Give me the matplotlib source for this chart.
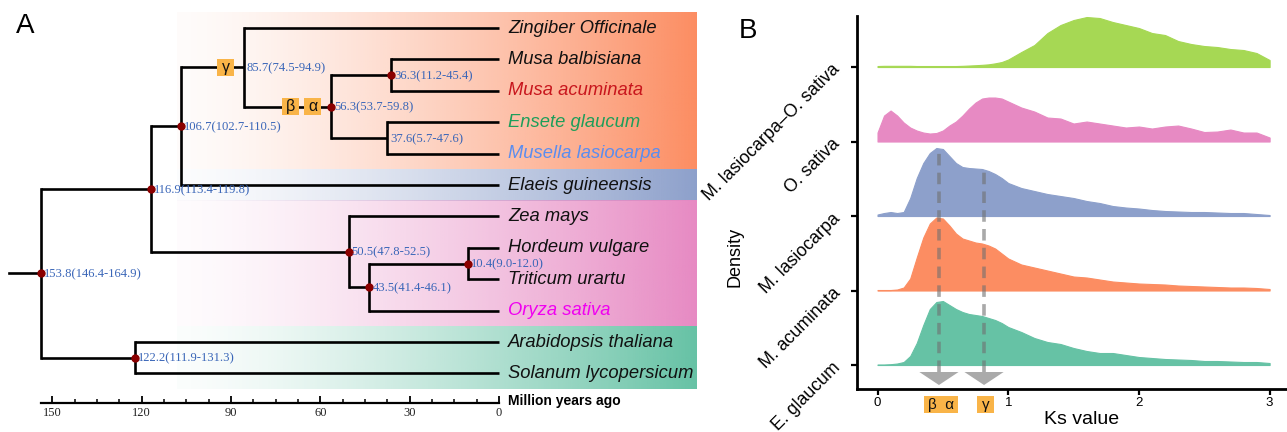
import numpy as np
import matplotlib
matplotlib.use("Agg")
import matplotlib.pyplot as plt
import matplotlib.transforms as mtransforms
from matplotlib.patches import Rectangle, Polygon
from matplotlib.ticker import MultipleLocator, FixedLocator

plt.rcParams['font.family'] = ['Liberation Sans', 'DejaVu Sans']

# ---------------- Panel A data ----------------
tip_names = ["Zingiber Officinale", "Musa balbisiana", "Musa acuminata", "Ensete glaucum",
             "Musella lasiocarpa", "Elaeis guineensis", "Zea mays", "Hordeum vulgare",
             "Triticum urartu", "Oryza sativa", "Arabidopsis thaliana", "Solanum lycopersicum"]
tip_colors = ["#111111", "#111111", "#C8161D", "#1E9E5A", "#5B8DEF", "#111111",
              "#111111", "#111111", "#111111", "#F000F0", "#111111", "#111111"]

node_ids = ["n1", "n2", "n3", "n4", "n5", "n6", "n7", "n8", "n9", "n10", "root"]
node_ages = [36.3, 37.6, 56.3, 85.7, 106.7, 10.4, 43.5, 50.5, 116.9, 122.2, 153.8]
node_lo = [11.2, 5.7, 53.7, 74.5, 102.7, 9.0, 41.4, 47.8, 113.4, 111.9, 146.4]
node_hi = [45.4, 47.6, 59.8, 94.9, 110.5, 12.0, 46.1, 52.5, 119.8, 131.3, 164.9]
node_children = [["Musa balbisiana", "Musa acuminata"],
                 ["Ensete glaucum", "Musella lasiocarpa"],
                 ["n1", "n2"],
                 ["Zingiber Officinale", "n3"],
                 ["n4", "Elaeis guineensis"],
                 ["Hordeum vulgare", "Triticum urartu"],
                 ["n6", "Oryza sativa"],
                 ["Zea mays", "n7"],
                 ["n5", "n8"],
                 ["Arabidopsis thaliana", "Solanum lycopersicum"],
                 ["n9", "n10"]]
node_dot = [True, False, True, False, True, True, True, True, True, True, True]

clade_first = [0, 5, 6, 10]
clade_last = [4, 5, 9, 11]
clade_colors = ["#FC8D62", "#8DA0CB", "#E78AC3", "#66C2A5"]

wgd_labels = ["γ", "β", "α"]
wgd_ages = [91.8, 69.8, 62.6]
wgd_on_node = ["n4", "n3", "n3"]

time_ticks = [150, 120, 90, 60, 30, 0]

# ---------------- Panel B data ----------------
ks_grid = [0, .05, .1, .15, .2, .25, .3, .35, .4, .45, .5, .55, .6, .65, .7, .75, .8, .85, .9, .95,
           1.0, 1.1, 1.2, 1.3, 1.4, 1.5, 1.6, 1.7, 1.8, 1.9, 2.0, 2.1, 2.2, 2.3, 2.4, 2.5, 2.6,
           2.7, 2.8, 2.9, 3.0]
ridge_names = ["E. glaucum", "M. acuminata", "M. lasiocarpa", "O. sativa", "M. lasiocarpa–O. sativa"]
ridge_colors = ["#66C2A5", "#FC8D62", "#8DA0CB", "#E78AC3", "#A6D854"]
dens_e_glaucum = [0.5, 0.5, 0.8, 1.5, 3, 9, 22, 40, 56, 63, 64, 60, 56, 53, 51, 50, 49, 47, 45, 42,
                  38, 33, 27, 23, 21, 17, 14, 12, 12, 10, 8, 7, 6, 5.5, 5, 4, 4, 3.5, 3, 3, 2]
dens_m_acuminata = [0.5, 0.5, 0.5, 1, 3, 12, 33, 53, 67, 73, 72, 65, 57, 52, 50, 48, 47, 45, 42, 37,
                    32, 26, 23, 20, 17, 14, 13, 11, 9, 8, 7, 6.5, 6, 5, 4.5, 4, 3.5, 3, 3, 2.5, 1.5]
dens_m_lasiocarpa = [1.5, 3, 4, 3, 4, 18, 38, 53, 63, 68, 67, 60, 53, 49, 48, 47.5, 47, 45, 42, 38,
                     33, 28, 25, 22, 20, 18, 15, 13, 10, 8.5, 7.5, 6, 5, 4.5, 4, 4, 3.5, 3, 3, 2, 1]
dens_o_sativa = [9, 26, 31, 26, 19, 14, 11, 9, 8, 8.5, 11, 16, 20, 26, 33, 39, 43, 44, 44, 43,
                 40, 34, 30, 24, 23, 18, 20, 18, 16, 14, 15, 13, 15, 16, 13, 9.5, 10, 12, 9, 9, 4]
dens_mlas_osat = [1, 1.2, 1.2, 1.2, 1.2, 1.2, 1, 1, 1, 1, 1, 1, 1, 1.2, 1.5, 1.8, 2.2, 2.7, 3.7, 5,
                  7.5, 15, 22, 34, 42, 47, 50, 49, 45, 42, 39, 34, 32, 26, 23, 21, 20, 18, 17, 14, 7]
ridge_dens = [dens_e_glaucum, dens_m_acuminata, dens_m_lasiocarpa, dens_o_sativa, dens_mlas_osat]
peak_labels = ["β  α", "γ"]
peak_ks = [0.47, 0.815]
ks_ticks = [0, 1, 2, 3]

# ---------------- Figure ----------------
W, H, DPI = 1287, 432, 100
fig = plt.figure(figsize=(W / DPI, H / DPI), dpi=DPI)

# Panel A axes calibrated: x = Myr (reversed), y = tip index
axA = fig.add_axes([0, 0, 720 / W, 1])
axA.axis('off')

# background gradient bands
grad_t0, grad_t1 = 108.0, -66.4
tt = np.linspace(0, 1, 256)
ramp = 0.03 + 0.97 * tt ** 1.4
for c0, c1, col in zip(clade_first, clade_last, clade_colors):
    rgb = np.array(matplotlib.colors.to_rgb(col))
    img = np.ones((1, 256, 4))
    img[0, :, :3] = rgb
    img[0, :, 3] = ramp
    axA.imshow(img, extent=[grad_t0, grad_t1, c1 + 0.5, c0 - 0.5], aspect='auto',
               interpolation='bilinear', zorder=0)
axA.set_xlim(167.45, -74.16)
axA.set_ylim(12.866, -0.892)

# positions
ypos = {n: i for i, n in enumerate(tip_names)}
xpos = {n: 0.0 for n in tip_names}
for nid, age, ch in zip(node_ids, node_ages, node_children):
    xpos[nid] = age
    ypos[nid] = 0.5 * (ypos[ch[0]] + ypos[ch[1]])

lw_tree = 1.9
for nid, age, ch in zip(node_ids, node_ages, node_children):
    axA.plot([age, age], [ypos[ch[0]], ypos[ch[1]]], color='black', lw=lw_tree,
             solid_capstyle='projecting', zorder=2)
    for c in ch:
        axA.plot([age, xpos[c]], [ypos[c], ypos[c]], color='black', lw=lw_tree,
                 solid_capstyle='butt', zorder=2)
root_age = node_ages[-1]
axA.plot([root_age + 10.5, root_age], [ypos['root'], ypos['root']], color='black', lw=lw_tree, zorder=2)

for nid, age, lo, hi, dot in zip(node_ids, node_ages, node_lo, node_hi, node_dot):
    if dot:
        axA.plot(age, ypos[nid], 'o', color='#8B0000', ms=5, zorder=4)
    axA.annotate(f"{age}({lo}-{hi})", (age, ypos[nid]), xytext=(3, -1), textcoords='offset pixels',
                 ha='left', va='center', fontsize=9.1, color='#3A66B8',
                 family=['Liberation Serif', 'DejaVu Serif'], zorder=4)

for name, col in zip(tip_names, tip_colors):
    axA.annotate(name, (0, ypos[name]), xytext=(9, 0), textcoords='offset pixels',
                 ha='left', va='center', fontsize=13.2, style='italic', color=col, zorder=4)

BOX = "#F9B448"


def px_rect(x, y, wpx, hpx, trans, color=BOX, z=5):
    off = mtransforms.ScaledTranslation(x, y, trans)
    r = Rectangle((-wpx / 2 / DPI, -hpx / 2 / DPI), wpx / DPI, hpx / DPI,
                  transform=fig.dpi_scale_trans + off, fc=color, ec='none', zorder=z)
    fig.add_artist(r)


for lab, age, nid in zip(wgd_labels, wgd_ages, wgd_on_node):
    px_rect(age, ypos[nid], 17, 17, axA.transData)
    fig.text(age, ypos[nid], lab, transform=axA.transData, ha='center', va='center',
             fontsize=11.5, zorder=6, color='#111111')

fig.text(25 / W, 1 - 26 / H, "A", fontsize=20, ha='center', va='center')

# time axis
axT = fig.add_axes([41 / W, (H - 403) / H, 458 / W, 0.03])
axT.set_facecolor('none')
axT.set_xlim(root_age, 0)
for s in ['top', 'left', 'right']:
    axT.spines[s].set_visible(False)
axT.spines['bottom'].set_linewidth(1.6)
axT.set_yticks([])
axT.xaxis.set_major_locator(FixedLocator(time_ticks))
axT.xaxis.set_minor_locator(MultipleLocator(7.5))
axT.tick_params(axis='x', which='major', direction='in', length=5, width=1.3, pad=3,
                labelsize=9, labelcolor='#222222')
axT.tick_params(axis='x', which='minor', direction='in', length=3, width=1.1)
axT.set_xticklabels([str(t) for t in time_ticks], family=['Liberation Serif', 'DejaVu Serif'])
fig.text(508 / W, 1 - 401 / H, "Million years ago", fontsize=10, weight='bold',
         ha='left', va='center')

# ---------------- Panel B ----------------
axB = fig.add_axes([857 / W, (H - 389) / H, (W - 857) / W, (389 - 16) / H])
axB.set_xlim(-0.157, 3.133)
axB.set_ylim(-0.322, 4.685)
scale = 74.5
ks = np.array(ks_grid)
n = len(ridge_names)
for i in range(n - 1, -1, -1):
    d = np.array(ridge_dens[i]) / scale
    axB.fill_between(ks, i, i + d, color=ridge_colors[i], lw=0.8, ec=ridge_colors[i],
                     zorder=2 + (n - i))

arrow_top = -7 / scale
arrow_tip = -20 / scale
for k in peak_ks:
    top = 2 + np.interp(k, ks, np.array(dens_m_lasiocarpa)) / scale
    axB.plot([k, k], [arrow_top, top], ls=(0, (3.2, 2.0)), lw=2.6, color='#707070', alpha=0.6,
             zorder=20)
    axB.add_patch(Polygon([[k - 0.15, arrow_top], [k + 0.15, arrow_top], [k, arrow_tip]],
                          closed=True, fc='#AAAAAA', ec='none', zorder=21))

blend = mtransforms.blended_transform_factory(axB.transData, axB.transAxes)
ybox = (389 - 404.5) / (389 - 16)
for lab, k in zip(peak_labels, peak_ks):
    wpx = 34 if len(lab) > 1 else 17
    px_rect(k + 0.012, ybox, wpx, 17, blend)
    fig.text(k + 0.012, ybox, lab, transform=blend, ha='center', va='center', fontsize=11,
             zorder=6, color='#111111')

for s in ['top', 'right']:
    axB.spines[s].set_visible(False)
for s in ['left', 'bottom']:
    axB.spines[s].set_linewidth(2.0)
axB.set_xticks(ks_ticks)
axB.set_xticklabels([str(t) for t in ks_ticks])
axB.set_yticks(range(n))
axB.set_yticklabels(ridge_names, rotation=45, ha='right', va='center', rotation_mode='anchor')
axB.tick_params(axis='x', length=4, width=1.6, labelsize=9.5, pad=2)
axB.tick_params(axis='y', length=4, width=1.6, labelsize=12.8, pad=10)

fig.text(1082 / W, 1 - 419 / H, "Ks value", fontsize=14, ha='center', va='center')
fig.text(735 / W, 1 - 257 / H, "Density", fontsize=13, rotation=90, ha='center', va='center')
fig.text(748 / W, 1 - 31 / H, "B", fontsize=20, ha='center', va='center')

fig.savefig("out.png", dpi=DPI)
